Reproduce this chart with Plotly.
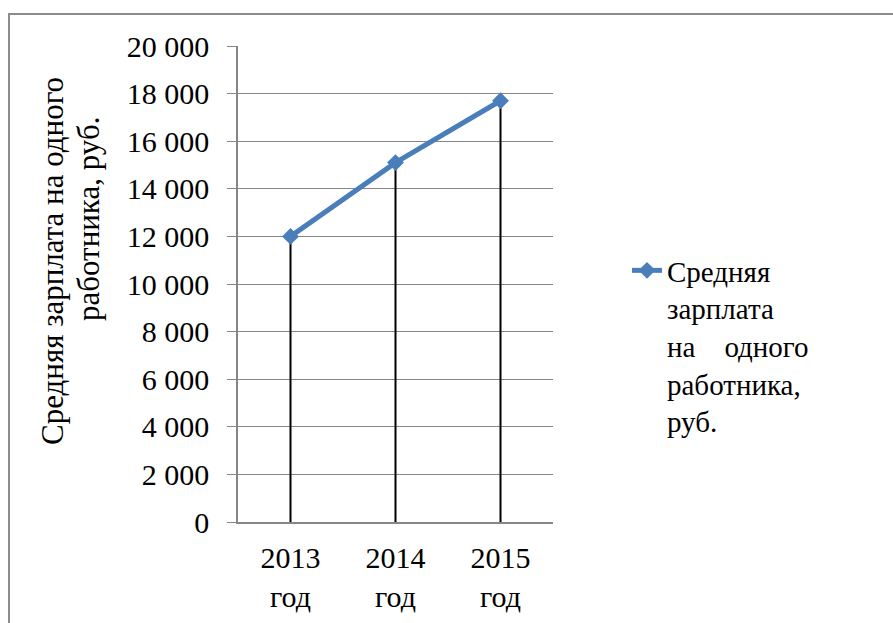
import plotly.graph_objects as go

# Average salary per employee by year
years = ["2013<br>год", "2014<br>год", "2015<br>год"]
salary = [12000, 15100, 17700]

y_ticks = [0, 2000, 4000, 6000, 8000, 10000, 12000, 14000, 16000, 18000, 20000]
y_tick_text = ["0", "2 000", "4 000", "6 000", "8 000", "10 000",
               "12 000", "14 000", "16 000", "18 000", "20 000"]

series_name = "Средняя<br>зарплата<br>на&nbsp;&nbsp;&nbsp;&nbsp;одного<br>работника,<br>руб."
y_title_1 = "Средняя зарплата на одного"
y_title_2 = "работника, руб."

FONT = "Liberation Serif"
BLUE = "#4A7EBB"
GRID = "#868686"

W, H = 893, 623
ML, MR, MT, MB = 238, 340, 46, 101
PW, PH = W - ML - MR, H - MT - MB


def px_x(x):
    return (x - ML) / PW


def px_y(y):
    return (H - MB - y) / PH


fig = go.Figure()
fig.add_trace(go.Scatter(
    x=years, y=salary,
    mode="lines+markers",
    name=series_name,
    line=dict(color=BLUE, width=5),
    marker=dict(symbol="diamond", size=13, color=BLUE),
    # drop lines from each point down to the category axis
    error_y=dict(type="data", symmetric=False,
                 array=[0] * len(salary), arrayminus=salary,
                 color="black", thickness=2, width=0),
))

fig.update_layout(
    width=W, height=H,
    margin=dict(l=ML, r=MR, t=MT, b=MB, autoexpand=False),
    paper_bgcolor="white", plot_bgcolor="white",
    font=dict(family=FONT, size=30, color="black"),
    showlegend=True,
    legend=dict(x=px_x(627), y=px_y(245), xanchor="left", yanchor="top",
                valign="top", font=dict(size=29, family=FONT),
                bgcolor="rgba(0,0,0,0)", tracegroupgap=0),
    xaxis=dict(type="category", range=[-0.5, 2.5], automargin=False,
               showgrid=False, showline=True, linecolor=GRID, linewidth=1.5,
               ticks="", ticklabelstandoff=8,
               tickfont=dict(size=30, family=FONT)),
    yaxis=dict(range=[0, 20000], tickvals=y_ticks, ticktext=y_tick_text,
               automargin=False,
               showgrid=True, gridcolor=GRID, gridwidth=1.3,
               showline=True, linecolor=GRID, linewidth=1.5,
               ticks="outside", ticklen=9, tickcolor=GRID, tickwidth=1.3,
               ticklabelstandoff=12, zeroline=False,
               tickfont=dict(size=30, family=FONT)),
    shapes=[dict(type="rect", xref="paper", yref="paper",
                 x0=px_x(9), y0=px_y(640), x1=px_x(910), y1=px_y(14),
                 line=dict(color="#8c8c8c", width=2), layer="below")],
    annotations=[
        dict(text=y_title_1, x=px_x(52), y=px_y(261), xref="paper", yref="paper",
             textangle=-90, showarrow=False, xanchor="center", yanchor="middle",
             font=dict(size=31, family=FONT)),
        dict(text=y_title_2, x=px_x(88), y=px_y(219), xref="paper", yref="paper",
             textangle=-90, showarrow=False, xanchor="center", yanchor="middle",
             font=dict(size=31, family=FONT)),
    ],
)

fig.write_html("out.html")
